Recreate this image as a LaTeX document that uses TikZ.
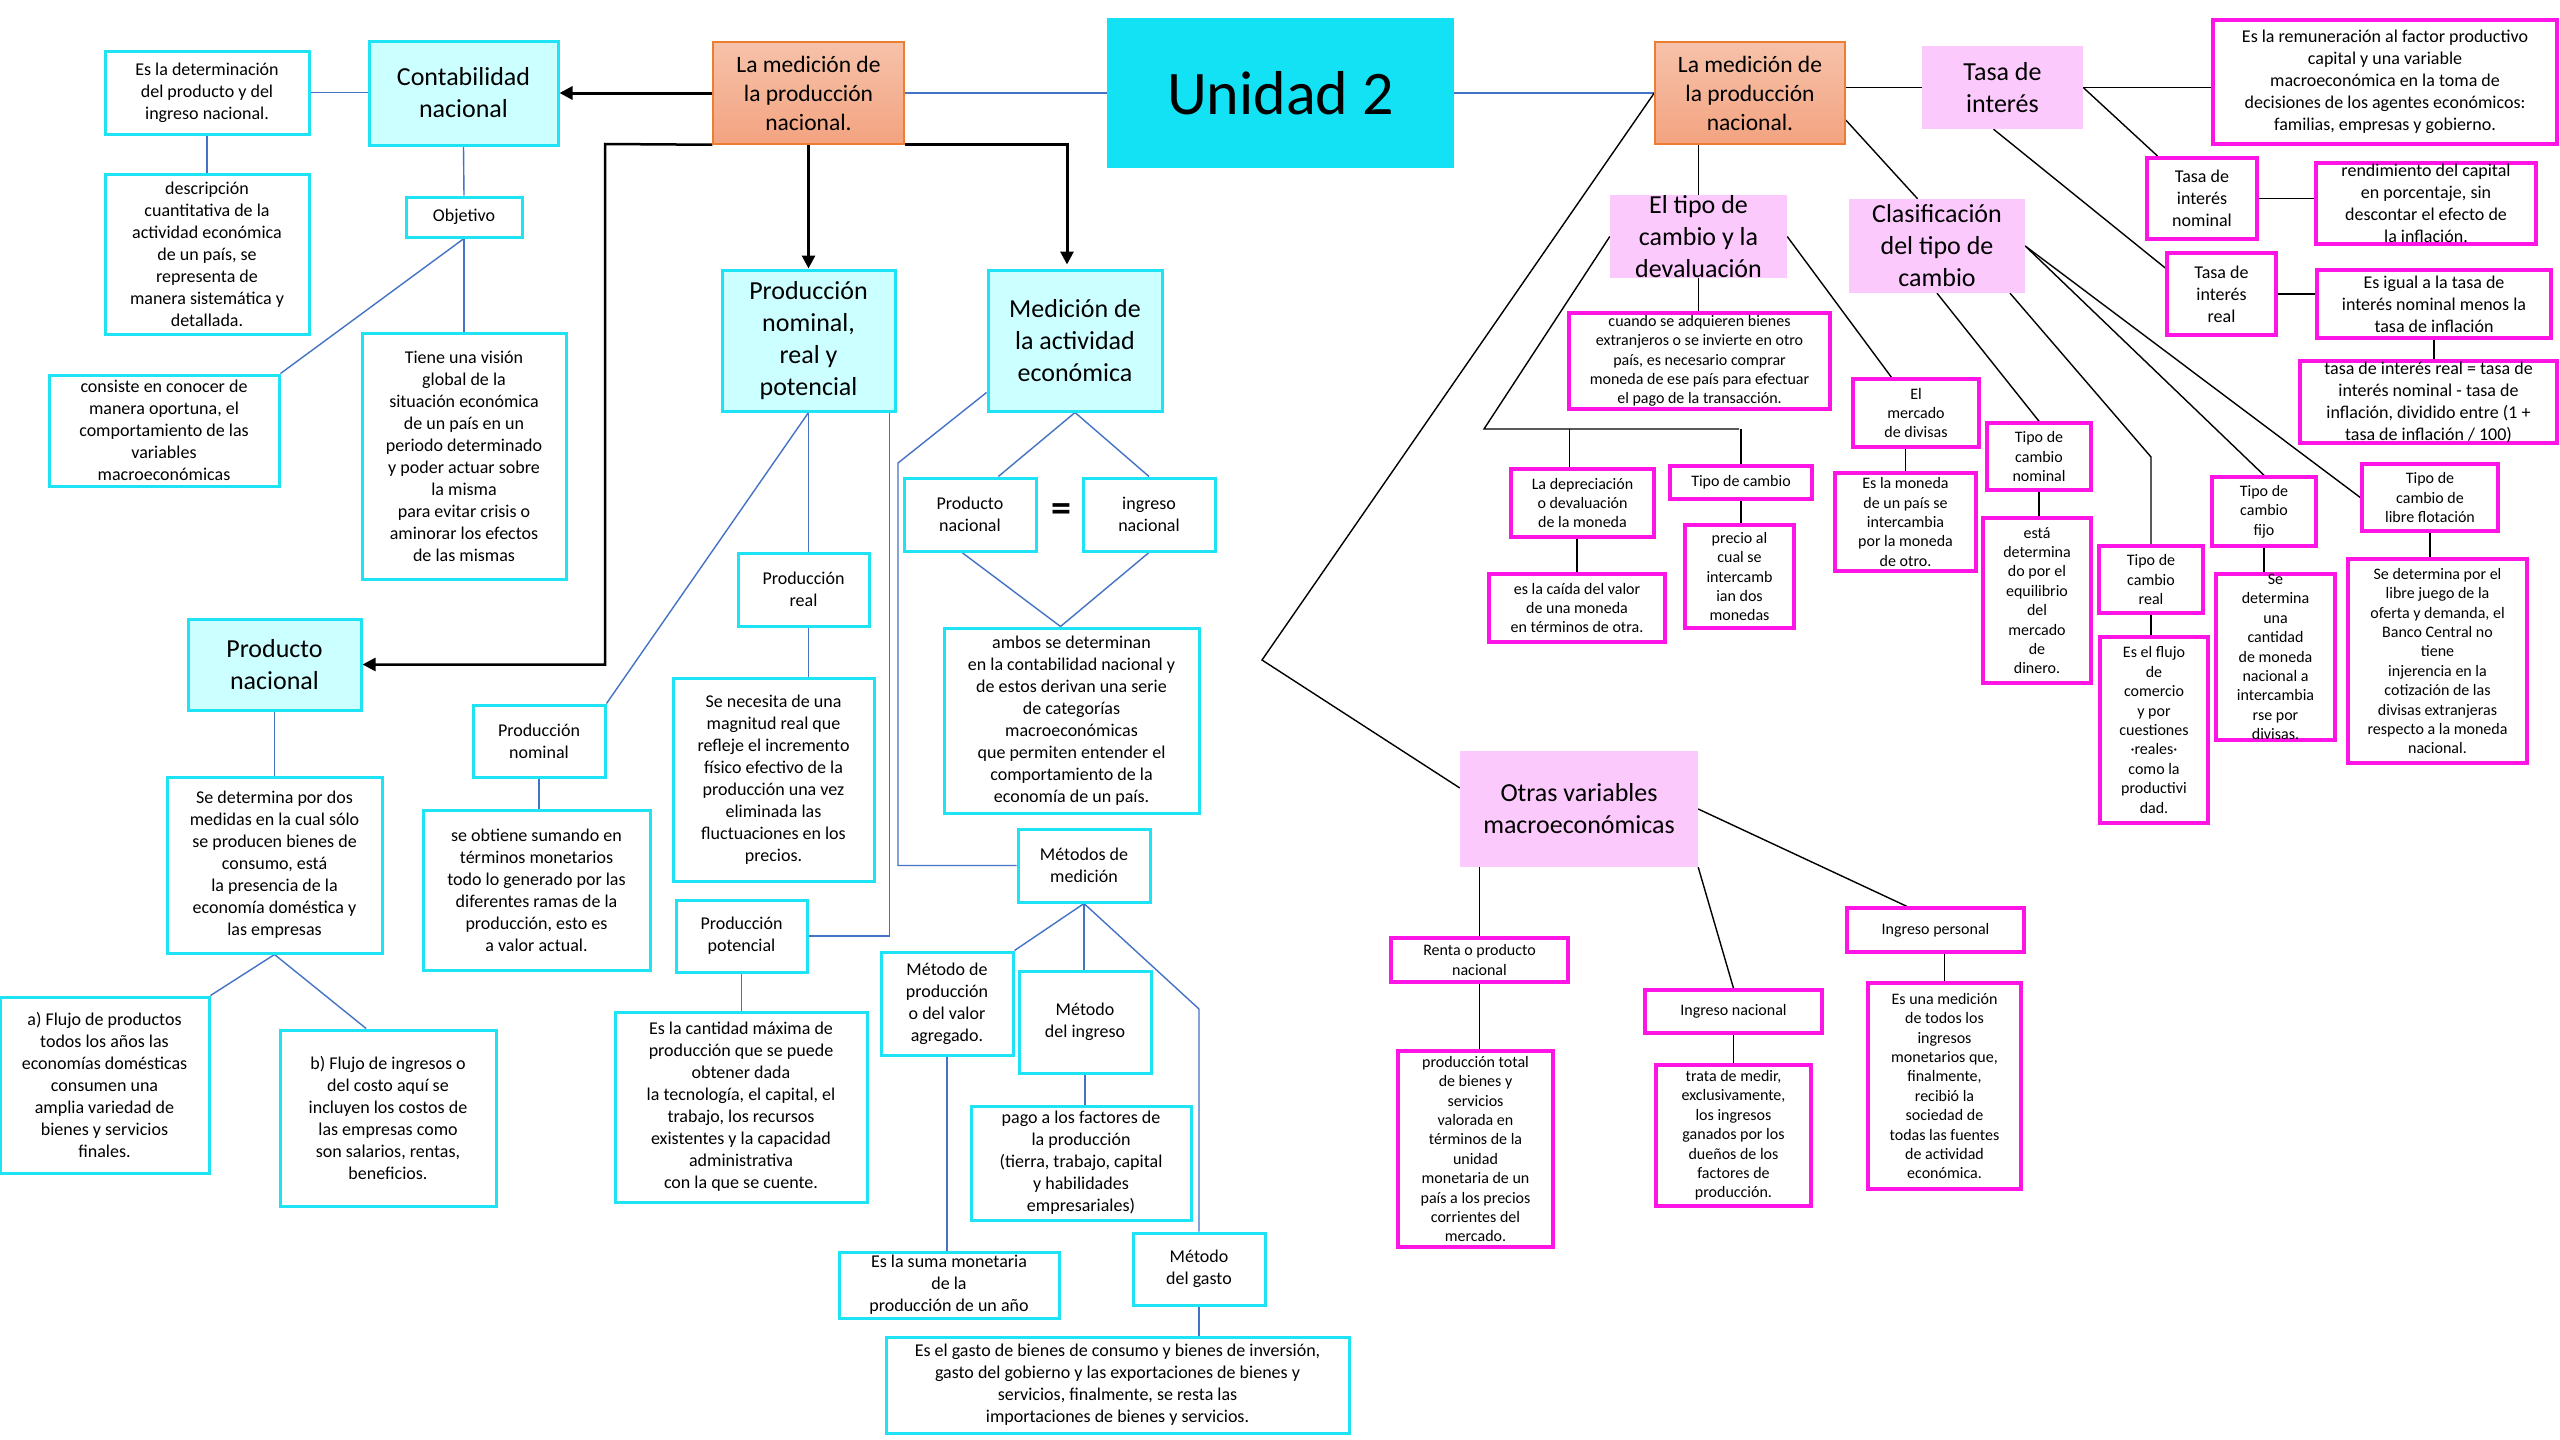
\documentclass[tikz,border=0pt]{standalone}
\usepackage{fontspec}
\setmainfont{Carlito}
\usetikzlibrary{arrows.meta,calc,backgrounds}
\definecolor{cyanB}{RGB}{30,227,245}
\definecolor{cyanL}{RGB}{204,255,255}
\definecolor{cyanU}{RGB}{19,226,245}
\definecolor{magB}{RGB}{255,20,230}
\definecolor{pinkL}{RGB}{252,201,252}
\definecolor{blueL}{RGB}{68,114,196}
\definecolor{orB}{RGB}{237,125,49}
\definecolor{orT}{RGB}{246,194,170}
\definecolor{orM}{RGB}{243,163,128}
\newcommand\fsA{\fontsize{18}{22}\selectfont}
\newcommand\fsB{\fontsize{16}{19.4}\selectfont}
\newcommand\fsC{\fontsize{26}{32}\selectfont}
\newcommand\fsD{\fontsize{23.5}{29}\selectfont}
\newcommand\fsE{\fontsize{62}{70}\selectfont}
\newcommand\bx[7]{\node[#2,minimum width={(#5-#3)*1pt},minimum height={(#6-#4)*1pt}] (#1) at ({(#3+#5)/2},{(#4+#6)/2}) {#7};}
\tikzset{
 cbox/.style={draw=cyanB,line width=3pt,fill=white,font=\fsA,align=center,inner xsep=2pt,inner ysep=0pt},
 ctitle/.style={cbox,fill=cyanL,font=\fsC},
 pbox/.style={draw=magB,line width=3.5pt,fill=white,font=\fsB,align=center,inner xsep=2pt,inner ysep=0pt},
 pboxl/.style={pbox,font=\fsA},
 ptitle/.style={fill=pinkL,font=\fsC,align=center,inner sep=0pt},
 obox/.style={draw=orB,line width=1.5pt,top color=orT,bottom color=orM,font=\fsD,align=center,inner sep=0pt},
 ubox/.style={fill=cyanU,font=\fsE,inner sep=0pt},
 bline/.style={draw=blueL,line width=1.4pt},
 kline/.style={draw=black,line width=1.4pt},
 karrow/.style={draw=black,line width=3pt,-{Triangle[length=13pt,width=13pt]}},
}
\begin{document}
\begin{tikzpicture}[x=1pt,y=-1pt]
\useasboundingbox (0,0) rectangle (2560,1440);
% ---------- left / cyan part
\bx{esdet}{cbox}{105}{51}{309}{134}{Es la  determinación\\del producto y del\\ingreso nacional.}
\bx{contab}{ctitle}{369}{41}{558}{145}{Contabilidad\\nacional}
\bx{descr}{cbox}{105}{174}{309}{334}{descripción\\cuantitativa de la\\actividad económica\\de un país, se\\representa de\\manera sistemática y\\detallada.}
\bx{objetivo}{cbox}{406}{197}{522}{237}{Objetivo}
\bx{consiste}{cbox}{49}{375}{279}{486}{consiste en conocer de\\manera oportuna, el\\comportamiento de las\\variables\\macroeconómicas}
\bx{tiene}{cbox}{362}{333}{566}{579}{Tiene  una visión\\global de la\\situación económica\\de un país en un\\periodo determinado\\y poder actuar sobre\\la misma\\para evitar crisis o\\aminorar los efectos\\de las mismas}
\bx{prodnac}{ctitle}{188}{619}{361}{710}{Producto\\nacional}
\bx{sedet}{cbox}{167}{777}{382}{953}{Se determina por dos\\medidas en la cual sólo\\se producen bienes de\\consumo, está\\la presencia de la\\economía doméstica y\\las empresas}
\bx{flujoa}{cbox}{0}{997}{209}{1173}{a) Flujo de productos\\todos los años las\\economías domésticas\\consumen una\\amplia variedad de\\bienes y servicios\\finales.}
\bx{flujob}{cbox}{280}{1030}{496}{1206}{b) Flujo de ingresos o\\del costo aquí se\\incluyen los costos de\\las empresas como\\son salarios, rentas,\\beneficios.}
\bx{medA}{obox}{713}{42}{904}{144}{La medición de\\la producción\\nacional.}
\bx{prodnrp}{ctitle}{722}{270}{895}{411}{Producción\\nominal,\\real y\\potencial}
\bx{medact}{ctitle}{988}{270}{1162}{411}{Medición de\\la actividad\\económica}
\bx{prodnom}{cbox}{473}{705}{605}{777}{Producción\\nominal}
\bx{seobt}{cbox}{423}{810}{650}{970}{se obtiene sumando en\\términos monetarios\\todo lo generado por las\\diferentes ramas de la\\producción, esto es\\a valor actual.}
\bx{prodreal}{cbox}{738}{553}{869}{626}{Producción\\real}
\bx{sene}{cbox}{673}{678}{874}{881}{Se necesita de una\\magnitud real que\\refleje el incremento\\físico efectivo de la\\producción una vez\\eliminada las\\fluctuaciones en los\\precios.}
\bx{prodpot}{cbox}{676}{900}{807}{972}{Producción\\potencial}
\bx{cantidad}{cbox}{615}{1012}{867}{1202}{Es la cantidad máxima de\\producción que se puede\\obtener dada\\la tecnología, el capital, el\\trabajo, los recursos\\existentes y la capacidad\\administrativa\\con la que se cuente.}
\bx{prodnacB}{cbox}{904}{478}{1036}{551}{Producto\\nacional}
\bx{ingnac}{cbox}{1083}{478}{1215}{551}{ingreso\\nacional}
\node[font=\fontsize{40}{40}\selectfont\bfseries,inner sep=0pt] (eq) at (1061,513) {=};
\bx{ambos}{cbox}{944}{628}{1199}{813}{ambos se determinan\\en la contabilidad nacional y\\de estos derivan una serie\\de categorías\\macroeconómicas\\que permiten entender el\\comportamiento de la\\economía de un país.}
\bx{metodos}{cbox}{1018}{829}{1150}{902}{Métodos de\\medición}
\bx{mprod}{cbox}{881}{952}{1013}{1055}{Método de\\producción\\o del valor\\agregado.}
\bx{mingreso}{cbox}{1019}{971}{1151}{1073}{Método\\del ingreso}
\bx{pago}{cbox}{971}{1106}{1191}{1220}{pago a los factores de\\la producción\\(tierra, trabajo, capital\\y habilidades\\empresariales)}
\bx{suma}{cbox}{839}{1252}{1059}{1318}{Es la suma monetaria\\de la\\producción de un año}
\bx{mgasto}{cbox}{1133}{1233}{1265}{1305}{Método\\del gasto}
\bx{gastob}{cbox}{886}{1337}{1349}{1433}{Es el gasto de bienes de consumo y bienes de inversión,\\gasto del gobierno y las exportaciones de bienes y\\servicios, finalmente, se resta las\\importaciones de bienes y servicios.}
\bx{unidad}{ubox}{1107}{18}{1454}{168}{Unidad 2}
% ---------- right / pink part
\bx{medB}{obox}{1655}{42}{1845}{144}{La medición de\\la producción\\nacional.}
\bx{tipo}{ptitle}{1610}{195}{1787}{278}{El tipo de\\cambio y la\\devaluación}
\bx{clasif}{ptitle}{1849}{199}{2025}{293}{Clasificación\\del tipo de\\cambio}
\bx{tasa}{ptitle}{1922}{46}{2083}{129}{Tasa de\\interés}
\bx{remun}{pboxl}{2213}{20}{2557}{144}{Es la remuneración al factor productivo\\capital y una variable\\macroeconómica en la toma de\\decisiones de los agentes económicos:\\familias, empresas y gobierno.}
\bx{tnom}{pboxl}{2147}{158}{2257}{239}{Tasa de\\interés\\nominal}
\bx{rend}{pboxl}{2316}{163}{2536}{244}{rendimiento del capital\\en porcentaje, sin\\descontar el efecto de\\la inflación.}
\bx{treal}{pboxl}{2167}{253}{2276}{335}{Tasa de\\interés\\real}
\bx{igual}{pboxl}{2317}{270}{2551}{338}{Es  igual a la tasa de\\interés nominal menos la\\tasa de inflación}
\bx{formula}{pboxl}{2300}{361}{2557}{443}{tasa de interés real = tasa de\\interés nominal - tasa de\\inflación, dividido entre (1 +\\tasa de inflación / 100)}
\bx{cuando}{pbox}{1569}{313}{1830}{409}{cuando se adquieren bienes\\extranjeros o se invierte en otro\\país, es necesario comprar\\moneda de ese país para efectuar\\el pago de la transacción.}
\bx{depre}{pbox}{1511}{469}{1654}{537}{La depreciación\\o devaluación\\de la moneda}
\bx{caida}{pbox}{1489}{574}{1665}{642}{es la caída del valor\\de una moneda\\en términos de otra.}
\bx{tcambio}{pbox}{1670}{466}{1812}{499}{Tipo de cambio}
\bx{precio}{pbox}{1685}{525}{1794}{628}{precio al\\cual se\\intercamb\\ian dos\\monedas}
\bx{merc}{pbox}{1853}{379}{1979}{447}{El\\mercado\\de divisas}
\bx{moneda}{pbox}{1835}{473}{1976}{571}{Es la moneda\\de un país se\\intercambia\\por la moneda\\de otro.}
\bx{tcnom}{pbox}{1987}{423}{2091}{490}{Tipo de\\cambio\\nominal}
\bx{esta}{pbox}{1983}{518}{2091}{683}{está\\determina\\do por el\\equilibrio\\del\\mercado\\de\\dinero.}
\bx{tcreal}{pbox}{2099}{546}{2203}{613}{Tipo de\\cambio\\real}
\bx{flujo}{pbox}{2100}{637}{2208}{823}{Es el flujo\\de\\comercio\\y por\\cuestiones\\·reales·\\como la\\productivi\\dad.}
\bx{tcfijo}{pbox}{2212}{477}{2316}{546}{Tipo de\\cambio\\fijo}
\bx{fijotxt}{pbox}{2216}{575}{2335}{739}{Se\\determina\\una\\cantidad\\de moneda\\nacional a\\intercambia\\rse por\\divisas.}
\bx{tclibre}{pbox}{2362}{464}{2498}{531}{Tipo de\\cambio de\\libre flotación}
\bx{libretxt}{pbox}{2348}{559}{2527}{763}{Se determina por el\\libre juego de la\\oferta y demanda, el\\Banco Central no\\tiene\\injerencia en la\\cotización de las\\divisas extranjeras\\respecto a la moneda\\nacional.}
\bx{otras}{ptitle}{1460}{751}{1698}{867}{Otras variables\\macroeconómicas}
\bx{renta}{pbox}{1391}{938}{1568}{982}{Renta o producto\\nacional}
\bx{prodtot}{pbox}{1398}{1051}{1553}{1247}{producción total\\de bienes y\\servicios\\valorada en\\términos de la\\unidad\\monetaria de un\\país a los precios\\corrientes del\\mercado.}
\bx{ingnacB}{pbox}{1645}{990}{1822}{1033}{Ingreso nacional}
\bx{trata}{pbox}{1656}{1065}{1811}{1206}{trata de medir,\\exclusivamente,\\los ingresos\\ganados por los\\dueños de los\\factores de\\producción.}
\bx{ingper}{pbox}{1847}{908}{2024}{952}{Ingreso personal}
\bx{esuna}{pbox}{1868}{983}{2021}{1189}{Es una medición\\de todos los\\ingresos\\monetarios que,\\finalmente,\\recibió la\\sociedad de\\todas las fuentes\\de actividad\\económica.}
% ---------- connectors
\begin{pgfonlayer}{background}
\fill[white] (0,0) rectangle (2560,1440);
\coordinate (bendM) at (898,463);
\coordinate (bendG) at (1199,1009);
\coordinate (bendL) at (605,144);
\coordinate (bendT) at (1484,429);
\coordinate (bendTb) at (1739,429);
\coordinate (bendC) at (2151,457);
\coordinate (bendO) at (1262,660);
% blue
\draw[bline] (esdet.east) -- (esdet.east -| contab.west);
\draw[bline] (esdet.south) -- (descr.north);
\draw[bline] (contab.south) -- (objetivo.north);
\draw[bline] (objetivo.south) -- (consiste.north east);
\draw[bline] (objetivo.south) -- (tiene.north);
\draw[bline] (prodnac.south) -- (sedet.north);
\draw[bline] (sedet.south) -- (flujoa.north east);
\draw[bline] (sedet.south) -- ($(flujob.north west)!0.4!(flujob.north east)$);
\draw[bline] (prodnrp.south) -- (prodnom.north east);
\draw[bline] (prodnrp.south) -- (prodnrp.south |- prodreal.north);
\draw[bline] ([xshift=-7pt]prodnrp.south east) |- (prodpot.east);
\draw[bline] (prodnrp.south |- prodreal.south) -- (prodnrp.south |- sene.north);
\draw[bline] (prodnom.south) -- (prodnom.south |- seobt.north);
\draw[bline] (prodpot.south) -- (prodpot.south |- cantidad.north);
\draw[bline] ([yshift=-52pt]medact.west) -- (bendM) |- (metodos.west);
\draw[bline] (medact.south) -- ($(prodnacB.north west)!0.71!(prodnacB.north east)$);
\draw[bline] (medact.south) -- (ingnac.north);
\draw[bline] ([xshift=-8pt]prodnacB.south) -- ([xshift=-11pt]ambos.north);
\draw[bline] (ingnac.south) -- ([xshift=-11pt]ambos.north);
\draw[bline] (metodos.south) -- (mprod.north east);
\draw[bline] (metodos.south) -- (metodos.south |- mingreso.north);
\draw[bline] (metodos.south) -- (bendG) -- (mgasto.north);
\draw[bline] (mprod.south) -- (mprod.south |- suma.north);
\draw[bline] (mingreso.south) -- (mingreso.south |- pago.north);
\draw[bline] (mgasto.south) -- (mgasto.south |- gastob.north);
\draw[bline] (medA.east) -- (medA.east -| unidad.west);
\draw[bline] (unidad.east) -- (unidad.east -| medB.west);
% black arrows
\draw[karrow] (medA.west) -- (medA.west -| contab.east);
\draw[karrow] (medA.south) -- (prodnrp.north);
\draw[karrow] (medA.south east) -| ([xshift=-8pt,yshift=4pt]medact.north);
\draw[karrow,line width=2.5pt] (medA.south west) -- (bendL) |- (prodnac.east);
% black lines
\draw[kline] (tipo.north |- medB.south) -- (tipo.north);
\draw[kline] (tasa.west -| medB.east) -- (tasa.west);
\draw[kline] ([yshift=-27pt]medB.east) -- ($(clasif.north west)!0.39!(clasif.north east)$);
\draw[kline] (tasa.east) -- (tasa.east -| remun.west);
\draw[kline] (tasa.east) -- ($(tnom.north west)!0.11!(tnom.north east)$);
\draw[kline] ([xshift=-9pt]tasa.south) -- ([yshift=26pt]treal.west);
\draw[kline] (tnom.east) -- (tnom.east -| rend.west);
\draw[kline] (treal.east) -- (treal.east -| igual.west);
\draw[kline] (igual.south) -- (igual.south |- formula.north);
\draw[kline] (tipo.south) -- (tipo.south |- cuando.north);
\draw[kline] (tipo.west) -- (bendT) -- (bendTb);
\draw[kline] ([xshift=-13pt]depre.north) -- ([xshift=-13pt]depre.north |- bendT);
\draw[kline] (tcambio.north) -- (tcambio.north |- bendT);
\draw[kline] (caida.north |- depre.south) -- (caida.north);
\draw[kline] (tcambio.south) -- (tcambio.south |- precio.north);
\draw[kline] (tipo.east) -- ($(merc.north west)!0.31!(merc.north east)$);
\draw[kline] (moneda.north |- merc.south) -- (moneda.north);
\draw[kline] (clasif.south) -- (tcnom.north);
\draw[kline] ([xshift=73pt]clasif.south) -- (bendC) -- (bendC |- tcreal.north);
\draw[kline] (clasif.east) -- (tcfijo.north);
\draw[kline] (clasif.east) -- (tclibre.west);
\draw[kline] (tcnom.south) -- (tcnom.south |- esta.north);
\draw[kline] (tcreal.south) -- (tcreal.south |- flujo.north);
\draw[kline] (tcfijo.south) -- (tcfijo.south |- fijotxt.north);
\draw[kline] (tclibre.south) -- (tclibre.south |- libretxt.north);
\draw[kline] (medB.west) -- (bendO) -- ([yshift=21pt]otras.west);
\draw[kline] (renta.north |- otras.south) -- (renta.north);
\draw[kline] (otras.south east) -- (ingnacB.north);
\draw[kline] (otras.east) -- ($(ingper.north west)!0.34!(ingper.north east)$);
\draw[kline] (renta.south) -- (renta.south |- prodtot.north);
\draw[kline] (ingnacB.south) -- (ingnacB.south |- trata.north);
\draw[kline] (esuna.north |- ingper.south) -- (esuna.north);
\end{pgfonlayer}
\end{tikzpicture}
\end{document}
